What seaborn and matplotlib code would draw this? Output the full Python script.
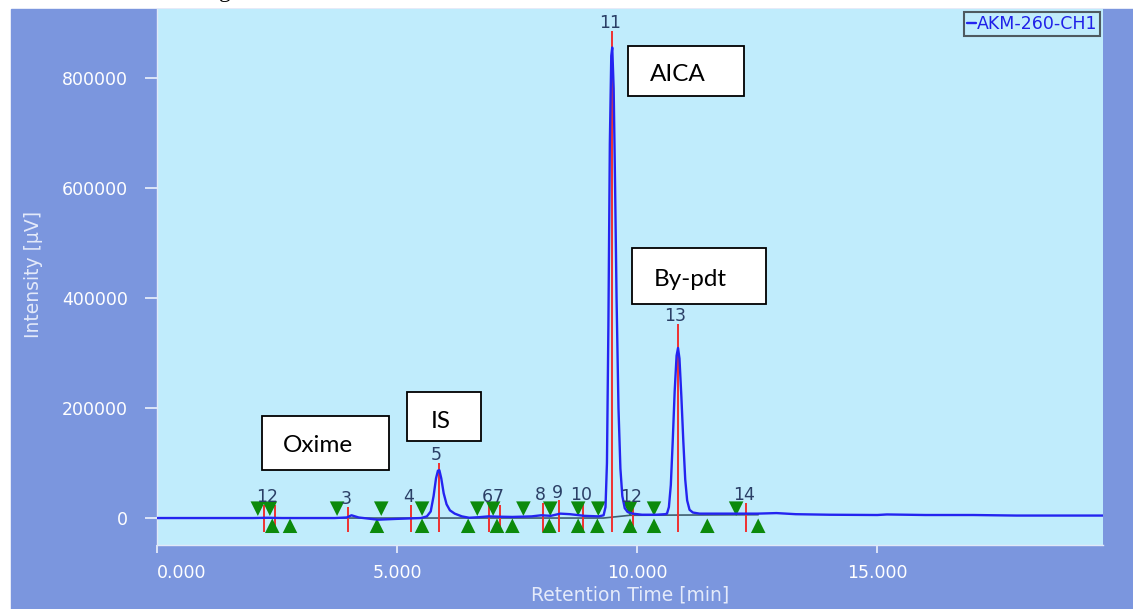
import numpy as np
import pandas as pd
import seaborn as sns
import matplotlib.pyplot as plt
from matplotlib.patches import Rectangle
from matplotlib.ticker import FuncFormatter

# chromatogram trace (min, uV)
rt = [0.0, 2.0, 2.3, 2.6, 3.7, 3.95, 4.05, 4.2, 4.6, 5.0, 5.5, 5.62, 5.70, 5.76, 5.81,
      5.85, 5.88, 5.92, 5.97, 6.03, 6.10, 6.20, 6.35, 6.50, 6.7, 6.9, 7.1, 7.4, 7.8,
      8.0, 8.2, 8.4, 8.6, 8.9, 9.2, 9.30, 9.34, 9.37, 9.40, 9.43, 9.46, 9.48, 9.51,
      9.54, 9.57, 9.61, 9.65, 9.69, 9.74, 9.80, 9.90, 10.1, 10.4, 10.58, 10.62, 10.66,
      10.70, 10.74, 10.78, 10.82, 10.85, 10.88, 10.92, 10.96, 11.00, 11.04, 11.09, 11.16,
      11.3, 11.6, 12.0, 12.5, 12.9, 13.3, 14.0, 15.0, 15.2, 16.0, 17.0, 17.9, 19.0, 19.7]
intensity = [0, 0, 500, 0, 0, 1000, 5000, 1000, -3000, -1500, 0, 3000, 12000, 40000, 72000,
             86000, 87000, 72000, 45000, 25000, 14000, 8000, 3000, 500, 1500, 3000, 2500, 2000, 3000,
             5000, 4000, 8000, 7000, 4000, 3000, 5000, 20000, 100000, 350000, 680000, 840000, 855000, 780000,
             600000, 400000, 200000, 90000, 40000, 18000, 11000, 8000, 6000, 6000, 7000, 8000, 20000,
             60000, 140000, 230000, 295000, 309000, 290000, 220000, 140000, 70000, 32000, 15000, 10000,
             8000, 8000, 8000, 8000, 9000, 7000, 6000, 5500, 6500, 5500, 5500, 4500, 4500, 4500]

# detected peaks: number, retention time, level of the peak mark top
peak_no = ["1", "2", "3", "4", "5", "6", "7", "8", "9", "10", "11", "12", "13", "14"]
peak_rt = [2.23, 2.46, 3.98, 5.29, 5.87, 6.92, 7.15, 8.04, 8.38, 8.88, 9.48, 9.92, 10.85, 12.27]
peak_mark_top = [24000, 24000, 20000, 24000, 100000, 24000, 24000, 27000, 32000, 27000,
                 885000, 24000, 352000, 27000]

# peak start / end markers
start_rt = [2.10, 2.35, 3.75, 4.67, 5.52, 6.67, 7.00, 7.63, 8.19, 8.77, 9.19, 9.85, 10.35, 12.06]
end_rt = [2.40, 2.77, 4.58, 5.52, 6.48, 7.08, 7.40, 8.17, 8.77, 9.17, 9.85, 10.35, 11.46, 12.52]

# integration baseline
base_rt = [2.10, 9.30, 9.85, 12.52]
base_val = [0, 0, 5000, 6000]

labels = ["Oxime", "IS", "AICA", "By-pdt"]

trace = pd.DataFrame({"Retention Time [min]": rt, "Intensity [µV]": intensity})

sns.set_style("white")
plt.rcParams["font.family"] = ["DejaVu Sans"]

BLUE_FRAME = "#7B96DE"
PANEL = "#C0ECFC"
LIGHT = "#EEF2FC"

fig = plt.figure(figsize=(11.33, 6.09), dpi=100)
fig.patch.set_facecolor("white")
fig.patches.append(Rectangle((11 / 1133, 0), 1122 / 1133, 600 / 609,
                             transform=fig.transFigure, color=BLUE_FRAME, zorder=-5))
fig.text(219 / 1133, 1 + 3 / 609, "g", fontsize=17, va="baseline", color="black",
         family="Liberation Serif")

ax = fig.add_axes([157 / 1133, 1 - 545 / 609, 946 / 1133, 536 / 609])
ax.set_facecolor(PANEL)
ax.set_zorder(2)

ax.plot(base_rt, base_val, color="#3F5E70", lw=1.2, zorder=2)
ax.vlines(peak_rt, -25000, peak_mark_top, color="#F03030", lw=1.4, zorder=3)
sns.scatterplot(x=start_rt, y=[17000] * len(start_rt), marker="v", s=110, color="#0C8A0C",
                edgecolor="none", ax=ax, zorder=4)
sns.scatterplot(x=end_rt, y=[-14000] * len(end_rt), marker="^", s=110, color="#0C8A0C",
                edgecolor="none", ax=ax, zorder=4)
sns.lineplot(data=trace, x="Retention Time [min]", y="Intensity [µV]", color="#2424F0",
             lw=1.7, label="AKM-260-CH1", estimator=None, sort=False, ax=ax, zorder=5)

for n, x, top in zip(peak_no, peak_rt, peak_mark_top):
    ax.text(x - 0.05, top - 2000, n, ha="center", va="bottom", fontsize=12.5,
            color="#2B3F66", zorder=6)

ax.set_xlim(0, 19.7)
ax.set_ylim(-49000, 925000)
ax.set_xticks([0, 5, 10, 15])
ax.set_yticks([0, 200000, 400000, 600000, 800000])
ax.xaxis.set_major_formatter(FuncFormatter(lambda v, p: "%.3f" % v))
ax.yaxis.set_major_formatter(FuncFormatter(lambda v, p: "%d" % v))
ax.tick_params(axis="y", left=True, direction="out", length=9, width=1.2, color=LIGHT,
               labelcolor="white", labelsize=12.5, pad=12)
ax.tick_params(axis="x", bottom=True, direction="out", length=6, width=1.2, color=LIGHT,
               labelcolor="white", labelsize=12.5, pad=8)
ax.xaxis.get_major_ticks()[0].label1.set_horizontalalignment("left")

for side in ["top", "right"]:
    ax.spines[side].set_visible(False)
for side in ["left", "bottom"]:
    ax.spines[side].set_color("#E2E9F8")
    ax.spines[side].set_linewidth(1)

ax.set_xlabel("Retention Time [min]", color="#E4EAFA", fontsize=13.5)
ax.set_ylabel("Intensity [µV]", color="#E4EAFA", fontsize=13.5)
ax.xaxis.set_label_coords(0.5, -0.075)
ax.yaxis.set_label_coords(-0.121, 0.505)

leg = ax.legend(loc="upper right", handlelength=0.5, handletextpad=0.05, borderpad=0.15,
                fancybox=False, edgecolor="#4E5A60", facecolor=PANEL, framealpha=1,
                borderaxespad=0.2, fontsize=12.5)
leg.get_frame().set_linewidth(1.5)
for t in leg.get_texts():
    t.set_color("#2020E8")

# annotation boxes (axes fraction)
boxes = [(0.111, 0.140, 0.134, 0.101, 0.133, 0.185),
         (0.264, 0.194, 0.079, 0.091, 0.289, 0.231),
         (0.498, 0.838, 0.123, 0.093, 0.521, 0.877),
         (0.502, 0.450, 0.142, 0.104, 0.525, 0.496)]
for name, (x0, y0, w, h, tx, ty) in zip(labels, boxes):
    ax.add_patch(Rectangle((x0, y0), w, h, transform=ax.transAxes, facecolor="white",
                           edgecolor="black", lw=1.3, zorder=7))
    ax.text(tx, ty, name, transform=ax.transAxes, ha="left", va="center", fontsize=17.5,
            family="Lato", color="black", zorder=8)

fig.savefig("out.png", dpi=100)
